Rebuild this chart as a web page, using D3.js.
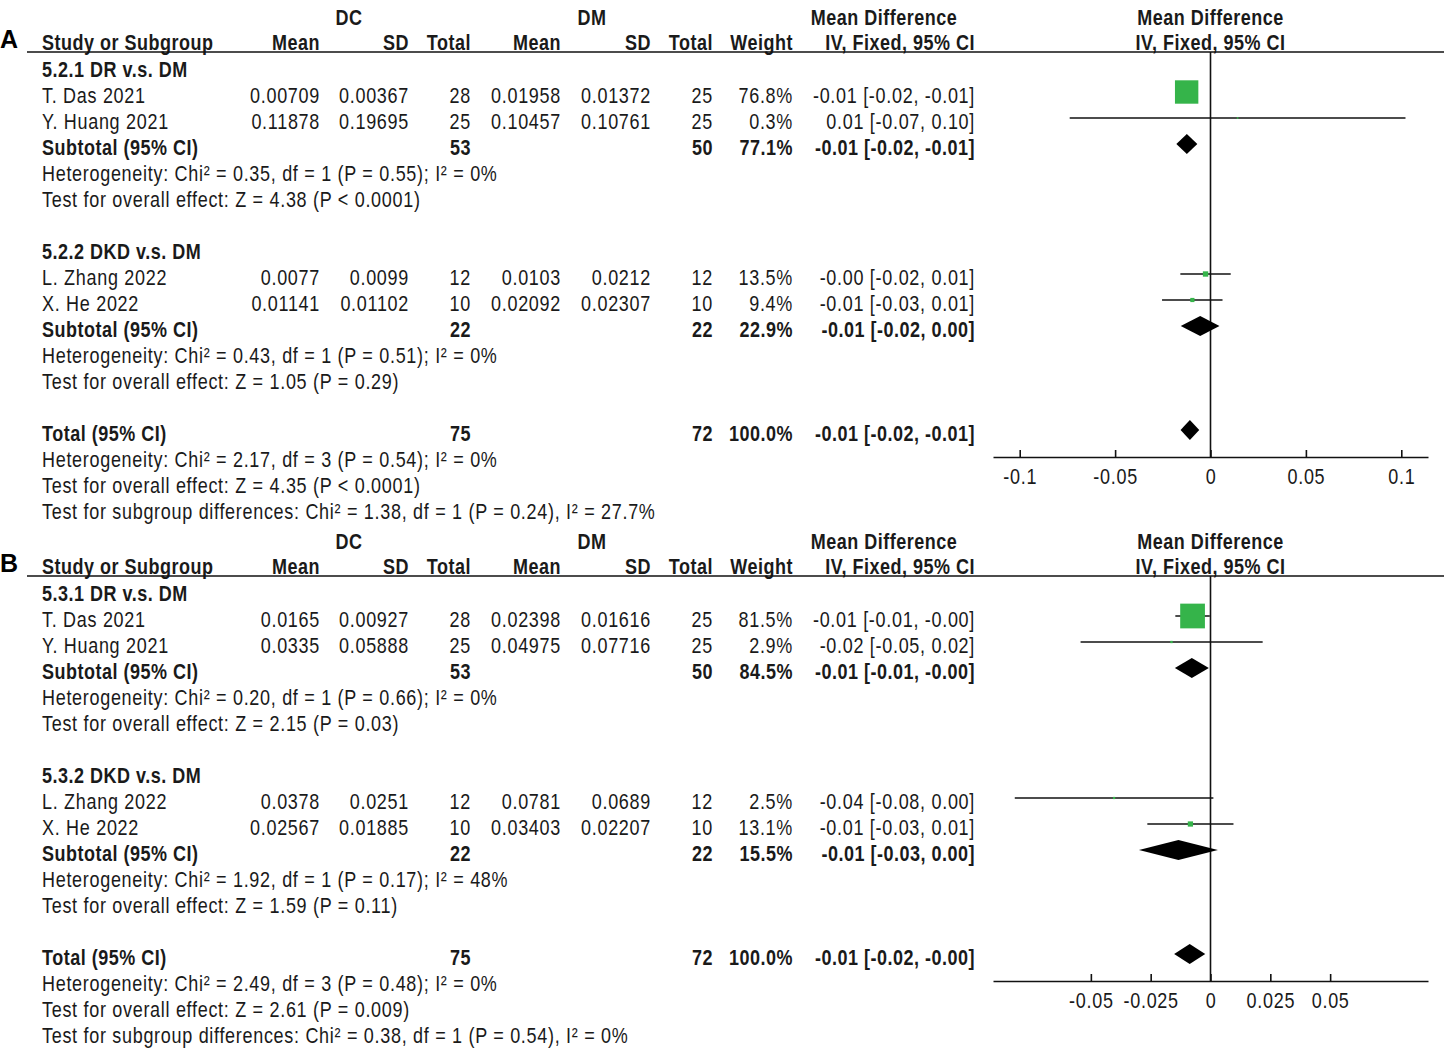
<!DOCTYPE html>
<html>
<head>
<meta charset="utf-8">
<script src="https://cdn.jsdelivr.net/npm/d3@7"></script>
<style>
  body { margin: 0; background: #fff; }
  svg text { font-family: "Liberation Sans", Arial, sans-serif; font-size: 18px; fill: #1a1a1a; }
  svg text.b { font-weight: bold; letter-spacing: 0.5px; }
  svg text.r { letter-spacing: 0.7px; }
  svg text.lbl { font-weight: bold; font-size: 25px; fill: #000; }
</style>
</head>
<body>
<svg id="chart"></svg>
<script>
// ---- panel A (5.2.x) ----
const aGroups = ["5.2.1 DR v.s. DM", "5.2.2 DKD v.s. DM"];
const aStudies = ["T. Das 2021", "Y. Huang 2021", "L. Zhang 2022", "X. He 2022"];
const aStudyGroup = [0, 0, 1, 1];
const aDcMean = [0.00709, 0.11878, 0.0077, 0.01141];
const aDcSd = [0.00367, 0.19695, 0.0099, 0.01102];
const aDcN = [28, 25, 12, 10];
const aDmMean = [0.01958, 0.10457, 0.0103, 0.02092];
const aDmSd = [0.01372, 0.10761, 0.0212, 0.02307];
const aDmN = [25, 25, 12, 10];
const aWeight = [76.8, 0.3, 13.5, 9.4];
const aMd = [-0.0125, 0.0142, -0.0026, -0.0095];
const aLo = [-0.0179, -0.0738, -0.0158, -0.0254];
const aHi = [-0.0071, 0.1022, 0.0106, 0.0063];
const aSubDcN = [53, 22];
const aSubDmN = [50, 22];
const aSubWeight = [77.1, 22.9];
const aSubMd = [-0.0124, -0.0054];
const aSubLo = [-0.0179, -0.0156];
const aSubHi = [-0.0069, 0.0047];
const aSubHet = ["Heterogeneity: Chi² = 0.35, df = 1 (P = 0.55); I² = 0%",
                 "Heterogeneity: Chi² = 0.43, df = 1 (P = 0.51); I² = 0%"];
const aSubZ = ["Test for overall effect: Z = 4.38 (P < 0.0001)",
               "Test for overall effect: Z = 1.05 (P = 0.29)"];
const aTotalN = [75, 72];
const aTotalEst = [-0.0108, -0.0157, -0.0059];
const aTotalNotes = ["Heterogeneity: Chi² = 2.17, df = 3 (P = 0.54); I² = 0%",
                     "Test for overall effect: Z = 4.35 (P < 0.0001)",
                     "Test for subgroup differences: Chi² = 1.38, df = 1 (P = 0.24), I² = 27.7%"];
const aTicks = [-0.1, -0.05, 0, 0.05, 0.1];

// ---- panel B (5.3.x) ----
const bGroups = ["5.3.1 DR v.s. DM", "5.3.2 DKD v.s. DM"];
const bStudies = ["T. Das 2021", "Y. Huang 2021", "L. Zhang 2022", "X. He 2022"];
const bStudyGroup = [0, 0, 1, 1];
const bDcMean = [0.0165, 0.0335, 0.0378, 0.02567];
const bDcSd = [0.00927, 0.05888, 0.0251, 0.01885];
const bDcN = [28, 25, 12, 10];
const bDmMean = [0.02398, 0.04975, 0.0781, 0.03403];
const bDmSd = [0.01616, 0.07716, 0.0689, 0.02207];
const bDmN = [25, 25, 12, 10];
const bWeight = [81.5, 2.9, 2.5, 13.1];
const bMd = [-0.0075, -0.0163, -0.0403, -0.0084];
const bLo = [-0.0147, -0.0543, -0.0818, -0.0264];
const bHi = [-0.0003, 0.0218, 0.0012, 0.0096];
const bSubDcN = [53, 22];
const bSubDmN = [50, 22];
const bSubWeight = [84.5, 15.5];
const bSubMd = [-0.0078, -0.0134];
const bSubLo = [-0.0149, -0.0299];
const bSubHi = [-0.0007, 0.0031];
const bSubHet = ["Heterogeneity: Chi² = 0.20, df = 1 (P = 0.66); I² = 0%",
                 "Heterogeneity: Chi² = 1.92, df = 1 (P = 0.17); I² = 48%"];
const bSubZ = ["Test for overall effect: Z = 2.15 (P = 0.03)",
               "Test for overall effect: Z = 1.59 (P = 0.11)"];
const bTotalN = [75, 72];
const bTotalEst = [-0.0087, -0.0152, -0.0022];
const bTotalNotes = ["Heterogeneity: Chi² = 2.49, df = 3 (P = 0.48); I² = 0%",
                     "Test for overall effect: Z = 2.61 (P = 0.009)",
                     "Test for subgroup differences: Chi² = 0.38, df = 1 (P = 0.54), I² = 0%"];
const bTicks = [-0.05, -0.025, 0, 0.025, 0.05];

// layout
const width = 1444;
const height = 1053;
const col = { name: 42, dcMean: 320, dcSd: 409, dcN: 471, dmMean: 561, dmSd: 651, dmN: 713, weight: 793, ci: 975 };
const plotLeft = 993;
const plotRight = 1428;
const rowH = 26;
const stretch = 1.2; // the source text is drawn a bit taller than it is wide
const green = "#35b44a";

const svg = d3.select("#chart").attr("width", width).attr("height", height);

const sizeScale = d3.scaleLinear().domain([0, 100]).range([1.5, 30]);

function ciText(m, l, h) {
  return `${m.toFixed(2)} [${l.toFixed(2)}, ${h.toFixed(2)}]`;
}

function txt(g, x, y, s, cls, anchor = "start") {
  return g.append("text")
    .attr("transform", `translate(${x},${y}) scale(1,${stretch})`)
    .attr("class", cls)
    .attr("text-anchor", anchor).text(s);
}

function drawPanel(p) {
  const g = svg.append("g");
  const top = p.top; // y of header rule
  const x = d3.scaleLinear().domain([-p.lim, p.lim]).range([plotLeft, plotRight]);

  // header
  g.append("text").attr("x", 0).attr("y", top - 4).attr("class", "lbl").text(p.label);
  txt(g, 349, top - 27, "DC", "b", "middle");
  txt(g, 592, top - 27, "DM", "b", "middle");
  txt(g, 884, top - 27, "Mean Difference", "b", "middle");
  txt(g, x(0), top - 27, "Mean Difference", "b", "middle");
  txt(g, col.name, top - 2, "Study or Subgroup", "b");
  [["Mean", col.dcMean], ["SD", col.dcSd], ["Total", col.dcN], ["Mean", col.dmMean],
   ["SD", col.dmSd], ["Total", col.dmN], ["Weight", col.weight], ["IV, Fixed, 95% CI", col.ci]]
    .forEach(([s, cx]) => txt(g, cx, top - 2, s, "b", "end"));
  txt(g, x(0), top - 2, "IV, Fixed, 95% CI", "b", "middle");

  g.append("line").attr("x1", 27).attr("x2", width).attr("y1", top).attr("y2", top)
    .attr("stroke", "#111").attr("stroke-width", 1.6);

  // build row list
  const rows = [];
  p.groups.forEach((name, gi) => {
    rows.push({ type: "group", name });
    p.studies.forEach((s, i) => { if (p.studyGroup[i] === gi) rows.push({ type: "study", i }); });
    rows.push({ type: "sub", gi });
    rows.push({ type: "note", s: p.subHet[gi] });
    rows.push({ type: "note", s: p.subZ[gi] });
    rows.push({ type: "blank" });
  });
  rows.push({ type: "total" });
  p.totalNotes.forEach((s) => rows.push({ type: "note", s }));

  const rowY = (i) => top + 14 + rowH * i;
  const axisY = top + 405;

  // zero line
  g.append("line").attr("x1", x(0)).attr("x2", x(0)).attr("y1", top).attr("y2", axisY)
    .attr("stroke", "#111").attr("stroke-width", 1.6);

  const diamond = (y, m, l, h) => g.append("path")
    .attr("d", `M${x(l)},${y}L${x(m)},${y - 10}L${x(h)},${y}L${x(m)},${y + 10}Z`)
    .attr("fill", "#000");

  rows.forEach((r, ri) => {
    const y = rowY(ri);
    const ty = y + 11;
    if (r.type === "group") {
      txt(g, col.name, ty, r.name, "b");
    } else if (r.type === "study") {
      const i = r.i;
      txt(g, col.name, ty, p.studies[i], "r");
      txt(g, col.dcMean, ty, String(p.dcMean[i]), "r", "end");
      txt(g, col.dcSd, ty, String(p.dcSd[i]), "r", "end");
      txt(g, col.dcN, ty, p.dcN[i], "r", "end");
      txt(g, col.dmMean, ty, String(p.dmMean[i]), "r", "end");
      txt(g, col.dmSd, ty, String(p.dmSd[i]), "r", "end");
      txt(g, col.dmN, ty, p.dmN[i], "r", "end");
      txt(g, col.weight, ty, p.weight[i].toFixed(1) + "%", "r", "end");
      txt(g, col.ci, ty, ciText(p.md[i], p.lo[i], p.hi[i]), "r", "end");
      g.append("line").attr("x1", x(p.lo[i])).attr("x2", x(p.hi[i]))
        .attr("y1", y).attr("y2", y).attr("stroke", "#111").attr("stroke-width", 1.5);
      const s = sizeScale(p.weight[i]);
      g.append("rect").attr("x", x(p.md[i]) - s / 2).attr("y", y - s / 2)
        .attr("width", s).attr("height", s).attr("fill", green);
    } else if (r.type === "sub") {
      const k = r.gi;
      txt(g, col.name, ty, "Subtotal (95% CI)", "b");
      txt(g, col.dcN, ty, p.subDcN[k], "b", "end");
      txt(g, col.dmN, ty, p.subDmN[k], "b", "end");
      txt(g, col.weight, ty, p.subWeight[k].toFixed(1) + "%", "b", "end");
      txt(g, col.ci, ty, ciText(p.subMd[k], p.subLo[k], p.subHi[k]), "b", "end");
      diamond(y, p.subMd[k], p.subLo[k], p.subHi[k]);
    } else if (r.type === "total") {
      const [m, l, h] = p.totalEst;
      txt(g, col.name, ty, "Total (95% CI)", "b");
      txt(g, col.dcN, ty, p.totalN[0], "b", "end");
      txt(g, col.dmN, ty, p.totalN[1], "b", "end");
      txt(g, col.weight, ty, (100).toFixed(1) + "%", "b", "end");
      txt(g, col.ci, ty, ciText(m, l, h), "b", "end");
      diamond(y, m, l, h);
    } else if (r.type === "note") {
      txt(g, col.name, ty, r.s, "r");
    }
  });

  // axis
  const axis = d3.axisBottom(x).tickValues(p.ticks).tickSizeInner(-7).tickSizeOuter(0)
    .tickPadding(10).tickFormat((d) => String(d));
  const ag = g.append("g").attr("transform", `translate(0,${axisY})`).call(axis);
  ag.select(".domain").attr("stroke", "#111").attr("stroke-width", 1.6);
  ag.selectAll(".tick line").attr("stroke", "#111").attr("stroke-width", 1.6);
  ag.selectAll(".tick text").attr("class", "r").attr("fill", "#1a1a1a")
    .attr("transform", `scale(1,${stretch})`)
    .style("font-size", "18px").style("font-family", '"Liberation Sans", Arial, sans-serif');
}

drawPanel({
  label: "A", top: 52, lim: 0.114, ticks: aTicks,
  groups: aGroups, studies: aStudies, studyGroup: aStudyGroup,
  dcMean: aDcMean, dcSd: aDcSd, dcN: aDcN, dmMean: aDmMean, dmSd: aDmSd, dmN: aDmN,
  weight: aWeight, md: aMd, lo: aLo, hi: aHi,
  subDcN: aSubDcN, subDmN: aSubDmN, subWeight: aSubWeight,
  subMd: aSubMd, subLo: aSubLo, subHi: aSubHi, subHet: aSubHet, subZ: aSubZ,
  totalN: aTotalN, totalEst: aTotalEst, totalNotes: aTotalNotes
});

drawPanel({
  label: "B", top: 576, lim: 0.0909, ticks: bTicks,
  groups: bGroups, studies: bStudies, studyGroup: bStudyGroup,
  dcMean: bDcMean, dcSd: bDcSd, dcN: bDcN, dmMean: bDmMean, dmSd: bDmSd, dmN: bDmN,
  weight: bWeight, md: bMd, lo: bLo, hi: bHi,
  subDcN: bSubDcN, subDmN: bSubDmN, subWeight: bSubWeight,
  subMd: bSubMd, subLo: bSubLo, subHi: bSubHi, subHet: bSubHet, subZ: bSubZ,
  totalN: bTotalN, totalEst: bTotalEst, totalNotes: bTotalNotes
});
</script>
</body>
</html>
